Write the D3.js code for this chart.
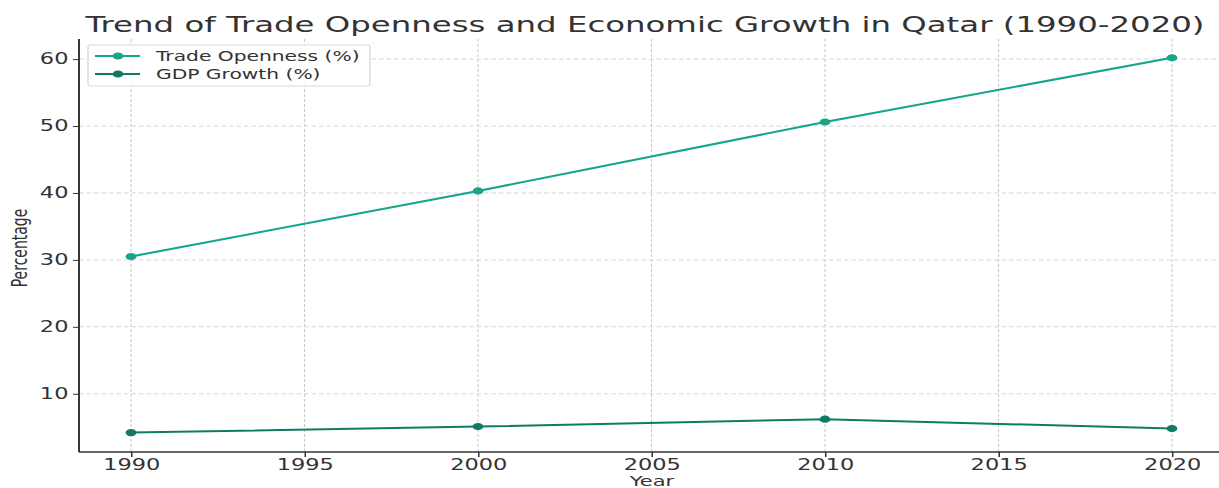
<!DOCTYPE html>
<html>
<head>
<meta charset="utf-8">
<script src="https://cdn.jsdelivr.net/npm/d3@7"></script>
<style>
  body { margin: 0; background: #fff; }
  svg text { font-family: "DejaVu Sans", sans-serif; fill: #333; }
</style>
</head>
<body>
<div id="chart"></div>
<script>
// chart values
const years = [1990, 2000, 2010, 2020];
const tradeOpenness = [30.5, 40.3, 50.6, 60.2];
const gdpGrowth = [4.2, 5.1, 6.2, 4.8];
const xTicks = [1990, 1995, 2000, 2005, 2010, 2015, 2020];
const yTicks = [10, 20, 30, 40, 50, 60];
const seriesNames = ["Trade Openness (%)", "GDP Growth (%)"];
const seriesColors = ["#17a589", "#117a65"];

const total_width = 1219
const total_height = 488
const sx = 1.5   // the picture is stretched sideways, so is this group

const margin = {left: 79, top: 39, right: 0, bottom: 36}
const plot_right = 1224   // axes run a bit past the page edge

var svg = d3.select("#chart")
  .append("svg")
  .attr("width", total_width)
  .attr("height", total_height);

var g = svg.append("g").attr("transform", "scale(" + sx + ",1)");

var x = d3.scaleLinear().domain([1988.5, 2021.5]).range([margin.left / sx, plot_right / sx]);
var y = d3.scaleLinear().domain([1.3, 63.0]).range([total_height - margin.bottom, margin.top]);

var x0 = margin.left / sx, x1 = plot_right / sx;
var yb = total_height - margin.bottom, yt = margin.top;

// grid
g.append("g").selectAll("line").data(xTicks).enter().append("line")
  .attr("x1", d => x(d)).attr("x2", d => x(d))
  .attr("y1", yt).attr("y2", yb)
  .attr("stroke", "#c8c8c8").attr("stroke-width", 0.7).attr("stroke-dasharray", "3,2");
g.append("g").selectAll("line").data(yTicks).enter().append("line")
  .attr("x1", x0).attr("x2", x1)
  .attr("y1", d => y(d)).attr("y2", d => y(d))
  .attr("stroke", "#d6d6d6").attr("stroke-width", 1).attr("stroke-dasharray", "3,2");

// axes
var xAxis = d3.axisBottom(x).tickValues(xTicks).tickFormat(d3.format("d")).tickSize(5).tickPadding(2);
var gx = g.append("g").attr("transform", "translate(0," + yb + ")").call(xAxis);
var yAxis = d3.axisLeft(y).tickValues(yTicks).tickSize(4).tickPadding(3);
var gy = g.append("g").attr("transform", "translate(" + x0 + ",0)").call(yAxis);

[gx, gy].forEach(function(a) {
  a.select(".domain").remove();
  a.selectAll("line").attr("stroke", "#333").attr("stroke-width", 1);
  a.selectAll("text").style("font-size", "15px").style("fill", "#333").style("font-family", "DejaVu Sans");
});

// spines
g.append("line").attr("x1", x0).attr("x2", x0).attr("y1", yt).attr("y2", yb)
  .attr("stroke", "#333").attr("stroke-width", 1.3);
g.append("line").attr("x1", x0).attr("x2", x1).attr("y1", yb).attr("y2", yb)
  .attr("stroke", "#333").attr("stroke-width", 1.3);

// lines and markers
var allSeries = [tradeOpenness, gdpGrowth];
var line = d3.line().x((d, i) => x(years[i])).y(d => y(d));

allSeries.forEach(function(vals, k) {
  g.append("path").datum(vals)
    .attr("d", line)
    .attr("fill", "none")
    .attr("stroke", seriesColors[k])
    .attr("stroke-width", 2);
  g.append("g").selectAll("circle").data(vals).enter().append("circle")
    .attr("cx", (d, i) => x(years[i]))
    .attr("cy", d => y(d))
    .attr("r", 3.6)
    .attr("fill", seriesColors[k]);
});

// title and labels
g.append("text").attr("x", 645 / sx).attr("y", 32)
  .attr("text-anchor", "middle").style("font-size", "21.6px")
  .text("Trend of Trade Openness and Economic Growth in Qatar (1990-2020)");

g.append("text").attr("x", 652 / sx).attr("y", 486)
  .attr("text-anchor", "middle").style("font-size", "14px")
  .text("Year");

g.append("text")
  .attr("transform", "translate(" + (27 / sx) + "," + 248 + ") rotate(-90)")
  .attr("text-anchor", "middle").style("font-size", "14px")
  .text("Percentage");

// legend
var leg = g.append("g");
leg.append("rect")
  .attr("x", 88 / sx).attr("y", 45)
  .attr("width", (370 - 88) / sx).attr("height", 41)
  .attr("rx", 2)
  .attr("fill", "#fff").attr("fill-opacity", 0.85)
  .attr("stroke", "#dcdcdc").attr("stroke-width", 1);

var rows = leg.selectAll("g.row").data(seriesNames).enter().append("g")
  .attr("transform", (d, i) => "translate(0," + (56 + i * 18) + ")");
rows.append("line")
  .attr("x1", 95 / sx).attr("x2", 140 / sx).attr("y1", 0).attr("y2", 0)
  .attr("stroke", (d, i) => seriesColors[i]).attr("stroke-width", 2);
rows.append("circle")
  .attr("cx", 118 / sx).attr("cy", 0).attr("r", 3.6)
  .attr("fill", (d, i) => seriesColors[i]);
rows.append("text")
  .attr("x", 156 / sx).attr("y", 0).attr("dy", "0.35em")
  .style("font-size", "13.5px")
  .text(d => d);
</script>
</body>
</html>
